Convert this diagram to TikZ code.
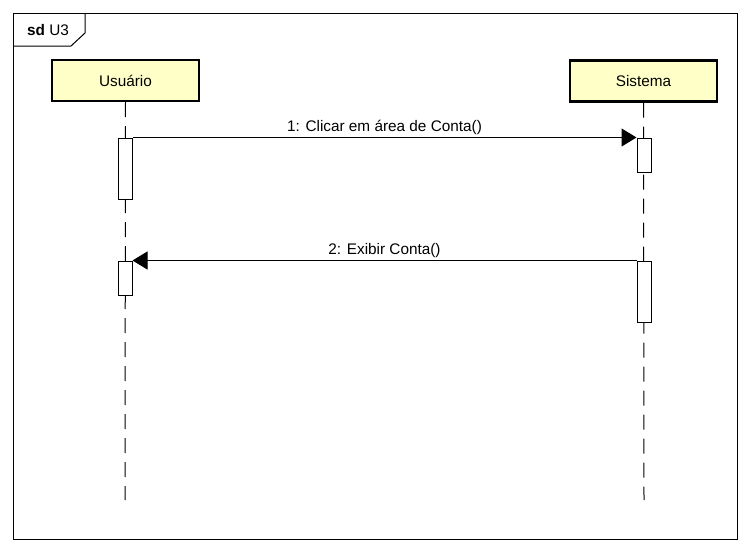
\documentclass[tikz,border=0pt]{standalone}
\usepackage{fontspec}
\setmainfont{Liberation Sans}
\usetikzlibrary{arrows.meta}

\definecolor{headfill}{RGB}{255,255,200}
\tikzset{every picture/.style={line width=0.75pt}}
\tikzset{
  lifehead/.style={draw, line width=1.6pt, fill=headfill, minimum width=110.25pt, minimum height=30.75pt, inner sep=0pt, font=\fontsize{11.5}{13.8}\selectfont},
  actbox/.style={draw, fill=white, minimum width=10.5pt, inner sep=0pt},
  lifeline/.style={dash pattern=on 11.25pt off 6.75pt},
  msg/.style={-{Triangle[length=11.25pt,width=13.5pt]}},
  msglabel/.style={above, inner sep=1.5pt, font=\fontsize{11.5}{13.8}\selectfont}
}

\begin{document}
\begin{tikzpicture}[x=0.75pt,y=0.75pt,yscale=-1,xscale=1]
\useasboundingbox (0,0) rectangle (750,553);

%Frame
\draw (13,13) rectangle (737,539);
\draw (13,46) -- (71,46) -- (85,33) -- (85,13);
% Text Node
\node (frameLabel) [inner sep=0pt, font=\fontsize{11.5}{13.8}\selectfont] at (48,30.5) {\textbf{sd} U3};

%Lifeline heads
\node (usr) [lifehead] at (125.5,80.5) {Usuário};
\node (sys) [lifehead] at (643.5,81) {Sistema};
\coordinate (usrEnd) at (125,500);
\coordinate (sysEnd) at (644,500);

%Lifelines
\draw [lifeline] (usr.south) -- (usrEnd);
\draw [lifeline] (sys.south) -- (sysEnd);

%Activations
\node (ua1) [actbox, minimum height=45.75pt] at (125,168.5) {};
\node (sa1) [actbox, minimum height=25.5pt] at (644,155) {};
\node (sa2) [actbox, minimum height=45.75pt] at (644,291.5) {};
\node (ua2) [actbox, minimum height=25.5pt] at (125,278) {};

%Messages
\draw [msg] (ua1.north east) -- node (m1) [msglabel] {1: Clicar em área de Conta()} (sa1.north west);
\draw [msg] (sa2.north west) -- node (m2) [msglabel] {2: Exibir Conta()} (ua2.north east);
\end{tikzpicture}
\end{document}
